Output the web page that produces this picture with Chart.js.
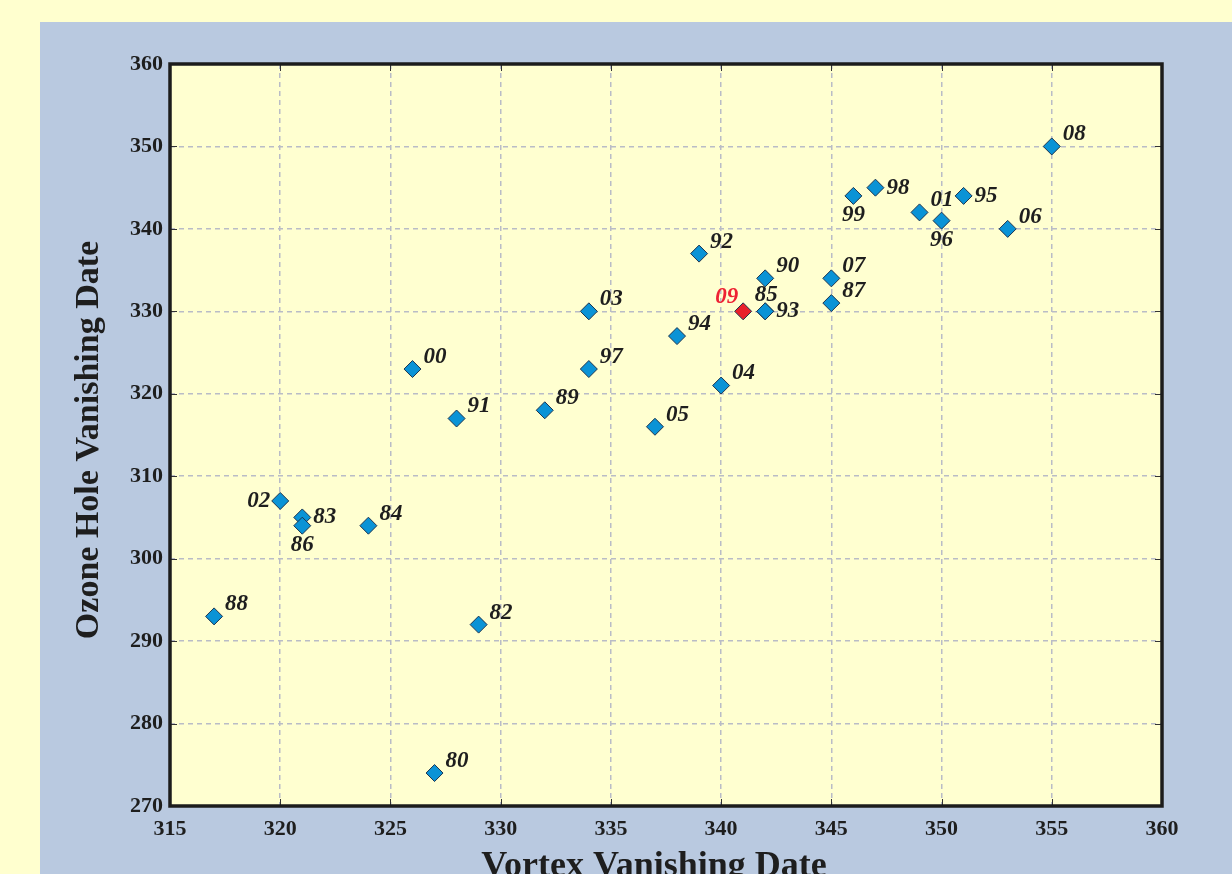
<!DOCTYPE html>
<html>
<head>
<meta charset="utf-8">
<script src="https://cdn.jsdelivr.net/npm/chart.js@4.4.0/dist/chart.umd.min.js"></script>
<style>
    html, body { margin: 0; padding: 0; background: #ffffcf; overflow: hidden; }
    #panel { position: absolute; left: 40px; top: 22px; width: 1192px; height: 852px; background: #b9c9e0; }
    #chart { position: absolute; left: 0; top: 0; }
</style>
</head>
<body>
<div id="panel"></div>
<canvas id="chart" width="1232" height="874"></canvas>
<script>
// Ano de cada ponto e datas (dia do ano)
const years = ['80', '82', '83', '84', '85', '86', '87', '88', '89', '90', '91', '92', '93', '94', '95',
    '96', '97', '98', '99', '00', '01', '02', '03', '04', '05', '06', '07', '08', '09'];
const vortexDates = [327, 329, 321, 324, 342, 321, 345, 317, 332, 342, 328, 339, 342, 338, 351,
    350, 334, 347, 346, 326, 349, 320, 334, 340, 337, 353, 345, 355, 341];
const ozoneDates = [274, 292, 305, 304, 330, 304, 331, 293, 318, 334, 317, 337, 330, 327, 344,
    341, 323, 345, 344, 323, 342, 307, 330, 321, 316, 340, 334, 350, 330];
const highlightYear = '09';

const xTicks = [315, 320, 325, 330, 335, 340, 345, 350, 355, 360];
const yTicks = [270, 280, 290, 300, 310, 320, 330, 340, 350, 360];

// posição do rótulo em relação ao marcador (ur = acima-direita)
const labelPos = {
    '83': 'r', '85': 't', '86': 'b', '93': 'r', '95': 'r', '96': 'b', '98': 'r', '99': 'b',
    '02': 'l', '09': 'tl'
};

const INK = '#1e1e1e';
const SERIF = "'Liberation Serif', 'Times New Roman', serif";

const points = years.map((y, i) => ({ x: vortexDates[i], y: ozoneDates[i], year: y }));
const colors = years.map(y => y === highlightYear ? '#e8202a' : '#0a93d6');

const framePlugin = {
    id: 'frame',
    beforeDraw(chart) {
        const { ctx, chartArea: a } = chart;
        ctx.save();
        ctx.fillStyle = '#ffffd0';
        ctx.fillRect(a.left, a.top, a.right - a.left, a.bottom - a.top);
        ctx.restore();
    },
    afterDatasetsDraw(chart) {
        const { ctx, chartArea: a, scales } = chart;
        ctx.save();
        // pequenos traços internos
        ctx.strokeStyle = '#333';
        ctx.lineWidth = 1;
        xTicks.forEach(v => {
            const px = Math.round(scales.x.getPixelForValue(v)) + 0.5;
            ctx.beginPath();
            ctx.moveTo(px, a.bottom); ctx.lineTo(px, a.bottom - 7);
            ctx.moveTo(px, a.top); ctx.lineTo(px, a.top + 7);
            ctx.stroke();
        });
        yTicks.forEach(v => {
            const py = Math.round(scales.y.getPixelForValue(v)) + 0.5;
            ctx.beginPath();
            ctx.moveTo(a.left, py); ctx.lineTo(a.left + 7, py);
            ctx.moveTo(a.right, py); ctx.lineTo(a.right - 7, py);
            ctx.stroke();
        });
        ctx.strokeStyle = '#1c1c1c';
        ctx.lineWidth = 3.5;
        ctx.strokeRect(a.left, a.top, a.right - a.left, a.bottom - a.top);

        // rótulos dos anos
        ctx.font = `italic bold 23px ${SERIF}`;
        const meta = chart.getDatasetMeta(0);
        meta.data.forEach((el, i) => {
            const yr = years[i];
            const pos = labelPos[yr] || 'ur';
            let dx = 11, dy = -12, align = 'left';
            if (pos === 'r') { dy = 0; }
            else if (pos === 'b') { dx = 0; dy = 19; align = 'center'; }
            else if (pos === 't') { dx = 1; dy = -16; align = 'center'; }
            else if (pos === 'l') { dx = -10; dy = 0; align = 'right'; }
            else if (pos === 'tl') { dx = -5; dy = -14; align = 'right'; }
            ctx.fillStyle = yr === highlightYear ? '#ee2233' : INK;
            ctx.textAlign = align;
            ctx.textBaseline = 'middle';
            ctx.fillText(yr, el.x + dx, el.y + dy);
        });

        // títulos dos eixos
        ctx.fillStyle = INK;
        ctx.textAlign = 'center';
        ctx.textBaseline = 'alphabetic';
        ctx.font = `bold 36px ${SERIF}`;
        ctx.fillText('Vortex Vanishing Date', 654, 876);
        ctx.font = `bold 34px ${SERIF}`;
        ctx.translate(98, 440);
        ctx.rotate(-Math.PI / 2);
        ctx.fillText('Ozone Hole Vanishing Date', 0, 0);
        ctx.restore();
    }
};

new Chart(document.getElementById('chart'), {
    type: 'scatter',
    data: {
        datasets: [{
            data: points,
            pointStyle: 'rectRot',
            pointRadius: 8.5,
            pointHoverRadius: 8.5,
            backgroundColor: colors,
            borderColor: '#1d3550',
            borderWidth: 1
        }]
    },
    options: {
        responsive: false,
        animation: false,
        devicePixelRatio: 1,
        layout: { padding: { left: 0, top: 64, right: 70, bottom: 0 } },
        plugins: { legend: { display: false }, tooltip: { enabled: false } },
        scales: {
            x: {
                type: 'linear',
                min: 315, max: 360,
                afterFit: s => { s.height = 68; },
                afterBuildTicks: s => { s.ticks = xTicks.map(v => ({ value: v })); },
                ticks: { color: INK, padding: 10, font: { family: SERIF, size: 22, weight: 'bold' }, maxRotation: 0 },
                grid: { color: '#b9bcc6', lineWidth: 1.5, drawTicks: false },
                border: { display: false, dash: [5, 4] }
            },
            y: {
                type: 'linear',
                min: 270, max: 360,
                afterFit: s => { s.width = 170; },
                afterBuildTicks: s => { s.ticks = yTicks.map(v => ({ value: v })); },
                ticks: { color: INK, padding: 7, font: { family: SERIF, size: 22, weight: 'bold' } },
                grid: { color: '#b9bcc6', lineWidth: 1.5, drawTicks: false },
                border: { display: false, dash: [5, 4] }
            }
        }
    },
    plugins: [framePlugin]
});
</script>
</body>
</html>
